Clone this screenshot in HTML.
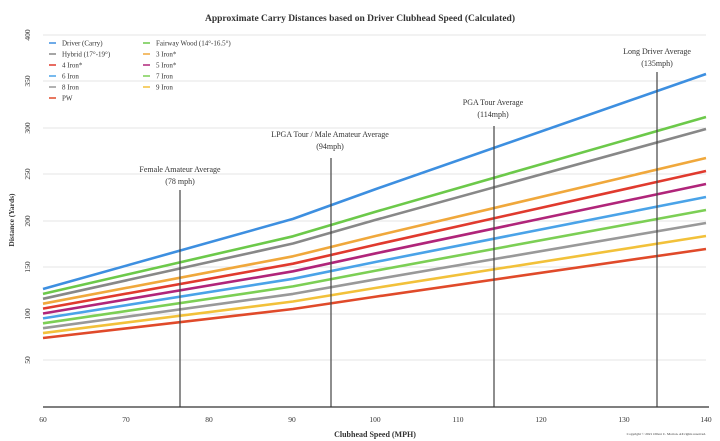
<!DOCTYPE html>
<html><head><meta charset="utf-8"><style>html,body{margin:0;padding:0;background:#fff}svg{display:block}text{font-family:"Liberation Serif",serif;fill:#333}</style></head><body>
<svg width="720" height="441" viewBox="0 0 720 441">
<rect width="720" height="441" fill="#fff"/>
<text x="360" y="21" text-anchor="middle" font-size="9.5" font-weight="bold" fill="#222">Approximate Carry Distances based on Driver Clubhead Speed (Calculated)</text>
<g stroke="#e6e6e6" stroke-width="1">
<line x1="43" x2="706" y1="35" y2="35"/><line x1="43" x2="706" y1="81" y2="81"/><line x1="43" x2="706" y1="128" y2="128"/><line x1="43" x2="706" y1="174" y2="174"/><line x1="43" x2="706" y1="221" y2="221"/><line x1="43" x2="706" y1="267" y2="267"/><line x1="43" x2="706" y1="314" y2="314"/><line x1="43" x2="706" y1="360" y2="360"/>
</g>
<g font-size="7.5" text-anchor="middle">
<text transform="translate(30,35) rotate(-90)">400</text><text transform="translate(30,81) rotate(-90)">350</text><text transform="translate(30,128) rotate(-90)">300</text><text transform="translate(30,174) rotate(-90)">250</text><text transform="translate(30,221) rotate(-90)">200</text><text transform="translate(30,267) rotate(-90)">150</text><text transform="translate(30,314) rotate(-90)">100</text><text transform="translate(30,360) rotate(-90)">50</text>
<text x="43" y="422">60</text><text x="126" y="422">70</text><text x="209" y="422">80</text><text x="292" y="422">90</text><text x="375" y="422">100</text><text x="458" y="422">110</text><text x="541" y="422">120</text><text x="624" y="422">130</text><text x="706" y="422">140</text>
</g>
<text transform="translate(14,220) rotate(-90)" font-size="7.5" font-weight="bold" text-anchor="middle">Distance (Yards)</text>
<text x="375" y="437" font-size="8" font-weight="bold" text-anchor="middle">Clubhead Speed (MPH)</text>
<text x="706" y="435" font-size="3.5" text-anchor="end">Copyright © 2021 Oliver C. Morton. All rights reserved.</text>
<g fill="none" stroke-width="2.6" stroke-linejoin="round">
<polyline stroke="#3d8fe0" points="43,289 293,218.9 376,189 706,74"/>
<polyline stroke="#6cc94a" points="43,293.9 293,236.3 376,211.6 706,117"/>
<polyline stroke="#888" points="43,298.8 293,243.5 376,219.8 706,129"/>
<polyline stroke="#f0a83c" points="43,303.7 293,256.3 376,235.9 706,158"/>
<polyline stroke="#e03a2e" points="43,308.6 293,263.7 376,244.6 706,171"/>
<polyline stroke="#b0257a" points="43,313.5 293,271.3 376,253.3 706,184"/>
<polyline stroke="#4aa3e8" points="43,318.4 293,278.8 376,261.9 706,197"/>
<polyline stroke="#7ccf55" points="43,323.3 293,286.4 376,270.6 706,210"/>
<polyline stroke="#999" points="43,328.2 293,293.9 376,279.3 706,223"/>
<polyline stroke="#f2c13a" points="43,333.1 293,301.5 376,287.9 706,236"/>
<polyline stroke="#e04a2a" points="43,338 293,309 376,296.6 706,249"/>
</g>
<g stroke="#444" stroke-width="1.2">
<line x1="180" x2="180" y1="190" y2="407"/><line x1="331" x2="331" y1="158" y2="407"/><line x1="494" x2="494" y1="126" y2="407"/><line x1="657" x2="657" y1="72" y2="407"/>
</g>
<line x1="43" x2="709" y1="407" y2="407" stroke="#333" stroke-width="1.2"/>
<g font-size="8" text-anchor="middle">
<text x="180" y="172">Female Amateur Average</text><text x="180" y="184">(78 mph)</text>
<text x="330" y="137">LPGA Tour / Male Amateur Average</text><text x="330" y="149">(94mph)</text>
<text x="493" y="105">PGA Tour Average</text><text x="493" y="117">(114mph)</text>
<text x="657" y="54">Long Driver Average</text><text x="657" y="66">(135mph)</text>
</g>
<g font-size="7">
<g stroke-width="1.5">
<line x1="49" x2="56" y1="43" y2="43" stroke="#3d8fe0"/><line x1="49" x2="56" y1="54" y2="54" stroke="#888"/><line x1="49" x2="56" y1="65" y2="65" stroke="#e03a2e"/><line x1="49" x2="56" y1="76" y2="76" stroke="#4aa3e8"/><line x1="49" x2="56" y1="87" y2="87" stroke="#999"/><line x1="49" x2="56" y1="98" y2="98" stroke="#e04a2a"/>
<line x1="143" x2="150" y1="43" y2="43" stroke="#6cc94a"/><line x1="143" x2="150" y1="54" y2="54" stroke="#f0a83c"/><line x1="143" x2="150" y1="65" y2="65" stroke="#b0257a"/><line x1="143" x2="150" y1="76" y2="76" stroke="#7ccf55"/><line x1="143" x2="150" y1="87" y2="87" stroke="#f2c13a"/>
</g>
<text x="62" y="45.5">Driver (Carry)</text><text x="62" y="56.5">Hybrid (17°-19°)</text><text x="62" y="67.5">4 Iron*</text><text x="62" y="78.5">6 Iron</text><text x="62" y="89.5">8 Iron</text><text x="62" y="100.5">PW</text>
<text x="156" y="45.5">Fairway Wood (14°-16.5°)</text><text x="156" y="56.5">3 Iron*</text><text x="156" y="67.5">5 Iron*</text><text x="156" y="78.5">7 Iron</text><text x="156" y="89.5">9 Iron</text>
</g>
</svg>
</body></html>
